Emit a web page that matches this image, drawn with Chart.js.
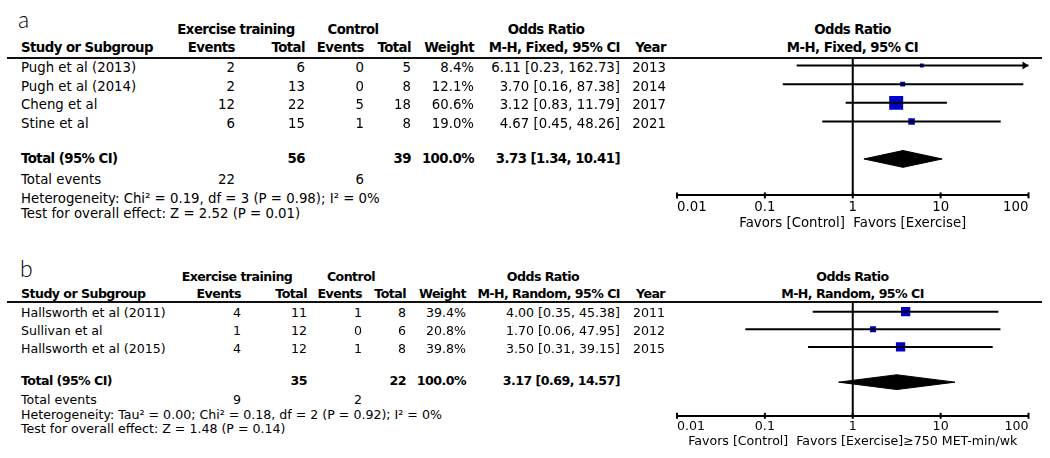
<!DOCTYPE html>
<html lang="en">
<head>
  <meta charset="UTF-8">
  <title>Forest plots</title>
  <script src="https://cdn.jsdelivr.net/npm/chart.js@4"></script>
  <style>
    body { margin: 0; background: #fff; }
    #page {
      position: relative;
      width: 1050px;
      height: 458px;
      overflow: hidden;
      font-family: "DejaVu Sans", Verdana, sans-serif;
      color: #000;
    }
    .t { position: absolute; white-space: nowrap; line-height: 1; }
    .b { font-weight: bold; letter-spacing: -0.55px; }
    .rule { position: absolute; left: 7px; width: 1035px; height: 2px; background: #111; }
    .tag { position: absolute; font-family: Lato, sans-serif; font-weight: 300; font-size: 23px; line-height: 1; }
    canvas { position: absolute; }
  </style>
</head>
<body>
  <div id="page">
    <canvas id="plotA" width="390" height="172" style="left:660px; top:58px;"></canvas>
    <canvas id="plotB" width="390" height="146" style="left:660px; top:302px;"></canvas>
  </div>

  <script>
    // ---- panel a data ----
    const studiesA = ['Pugh et al (2013)', 'Pugh et al (2014)', 'Cheng et al', 'Stine et al'];
    const exEventsA = [2, 2, 12, 6];
    const exTotalA = [6, 13, 22, 15];
    const ctEventsA = [0, 0, 5, 1];
    const ctTotalA = [5, 8, 18, 8];
    const weightA = [8.4, 12.1, 60.6, 19.0];
    const orA = [6.11, 3.70, 3.12, 4.67];
    const lowA = [0.23, 0.16, 0.83, 0.45];
    const highA = [162.73, 87.38, 11.79, 48.26];
    const yearA = [2013, 2014, 2017, 2021];
    const pooledA = [3.73, 1.34, 10.41];      // estimate, low, high
    const totalsA = [56, 39];                 // exercise, control
    const eventsA = [22, 6];
    const hetA = 'Heterogeneity: Chi² = 0.19, df = 3 (P = 0.98); I² = 0%';
    const testA = 'Test for overall effect: Z = 2.52 (P = 0.01)';

    // ---- panel b data ----
    const studiesB = ['Hallsworth et al (2011)', 'Sullivan et al', 'Hallsworth et al (2015)'];
    const exEventsB = [4, 1, 4];
    const exTotalB = [11, 12, 12];
    const ctEventsB = [1, 0, 1];
    const ctTotalB = [8, 6, 8];
    const weightB = [39.4, 20.8, 39.8];
    const orB = [4.00, 1.70, 3.50];
    const lowB = [0.35, 0.06, 0.31];
    const highB = [45.38, 47.95, 39.15];
    const yearB = [2011, 2012, 2015];
    const pooledB = [3.17, 0.69, 14.57];
    const totalsB = [35, 22];
    const eventsB = [9, 2];
    const hetB = 'Heterogeneity: Tau² = 0.00; Chi² = 0.18, df = 2 (P = 0.92); I² = 0%';
    const testB = 'Test for overall effect: Z = 1.48 (P = 0.14)';

    const orTicks = [0.01, 0.1, 1, 10, 100];

    const page = document.getElementById('page');

    function put(s, x, y, align, size, bold) {
      const d = document.createElement('div');
      d.className = 't' + (bold ? ' b' : '');
      d.textContent = s;
      d.style.fontSize = size + 'px';
      d.style.left = x + 'px';
      d.style.top = y + 'px';
      const tx = align === 'r' ? '-100%' : align === 'c' ? '-50%' : '0';
      d.style.transform = `translate(${tx}, -50%)`;
      page.appendChild(d);
    }

    function orText(e, l, h) {
      return `${e.toFixed(2)} [${l.toFixed(2)}, ${h.toFixed(2)}]`;
    }

    function table(L, method, d) {
      const fs = L.fs;
      const tag = document.createElement('div');
      tag.className = 'tag';
      tag.textContent = L.tag;
      tag.style.left = L.tagX + 'px';
      tag.style.top = L.tagY + 'px';
      tag.style.transform = 'translateY(-50%)';
      page.appendChild(tag);

      put('Exercise training', L.grpE, L.h1, 'c', fs, true);
      put('Control', L.grpC, L.h1, 'c', fs, true);
      put('Odds Ratio', L.orHead, L.h1, 'c', fs, true);
      put('Odds Ratio', 852.5, L.h1, 'c', fs, true);

      put('Study or Subgroup', L.c.study, L.h2, 'l', fs, true);
      put('Events', L.c.evE, L.h2, 'r', fs, true);
      put('Total', L.c.totE, L.h2, 'r', fs, true);
      put('Events', L.c.evC, L.h2, 'r', fs, true);
      put('Total', L.c.totC, L.h2, 'r', fs, true);
      put('Weight', L.c.wt, L.h2, 'r', fs, true);
      put(method, L.c.or, L.h2, 'r', fs, true);
      put('Year', L.c.yr, L.h2, 'r', fs, true);
      put(method, 852.5, L.h2, 'c', fs, true);

      const rule = document.createElement('div');
      rule.className = 'rule';
      rule.style.top = (L.rule - 1) + 'px';
      page.appendChild(rule);

      d.studies.forEach((s, i) => {
        const y = L.row0 + L.step * i;
        put(s, L.c.study, y, 'l', fs);
        put(String(d.exEv[i]), L.c.evE, y, 'r', fs);
        put(String(d.exTot[i]), L.c.totE, y, 'r', fs);
        put(String(d.ctEv[i]), L.c.evC, y, 'r', fs);
        put(String(d.ctTot[i]), L.c.totC, y, 'r', fs);
        put(d.wt[i].toFixed(1) + '%', L.c.wt, y, 'r', fs);
        put(orText(d.or[i], d.lo[i], d.hi[i]), L.c.or, y, 'r', fs);
        put(String(d.year[i]), L.c.yr, y, 'r', fs);
      });

      put('Total (95% CI)', L.c.study, L.totY, 'l', fs, true);
      put(String(d.totals[0]), L.c.totE, L.totY, 'r', fs, true);
      put(String(d.totals[1]), L.c.totC, L.totY, 'r', fs, true);
      put('100.0%', L.c.wt, L.totY, 'r', fs, true);
      put(orText(d.pooled[0], d.pooled[1], d.pooled[2]), L.c.or, L.totY, 'r', fs, true);

      put('Total events', L.c.study, L.evY, 'l', fs);
      put(String(d.events[0]), L.c.evE, L.evY, 'r', fs);
      put(String(d.events[1]), L.c.evC, L.evY, 'r', fs);
      put(d.het, L.c.study, L.hetY, 'l', fs);
      put(d.test, L.c.study, L.testY, 'l', fs);
    }

    const forestExtras = {
      id: 'forestExtras',
      beforeDatasetsDraw(chart) {
        const {ctx, chartArea: a, scales: {x}} = chart;
        const x1 = x.getPixelForValue(1);
        ctx.save();
        ctx.strokeStyle = '#000';
        ctx.lineWidth = 2;
        ctx.beginPath();
        ctx.moveTo(x1, a.top);
        ctx.lineTo(x1, a.bottom);
        ctx.stroke();
        ctx.restore();
      },
      afterDraw(chart, args, opts) {
        const {ctx, chartArea: a, scales: {x, y}} = chart;
        ctx.save();
        ctx.strokeStyle = '#000';
        ctx.fillStyle = '#000';
        ctx.lineWidth = 2;
        orTicks.forEach(v => {
          const px = x.getPixelForValue(v);
          ctx.beginPath();
          ctx.moveTo(px, a.bottom - 3);
          ctx.lineTo(px, a.bottom + 3);
          ctx.stroke();
        });
        // arrows for intervals that run past the axis
        (opts.high || []).forEach((h, i) => {
          if (h <= x.max) return;
          const px = x.getPixelForValue(x.max);
          const py = y.getPixelForValue(i);
          ctx.beginPath();
          ctx.moveTo(px, py);
          ctx.lineTo(px - 6, py - 4);
          ctx.lineTo(px - 6, py + 4);
          ctx.closePath();
          ctx.fill();
        });
        ctx.restore();
      }
    };

    function forest(id, d, g) {
      const n = d.or.length;
      const datasets = [];
      d.or.forEach((v, i) => {
        datasets.push({
          data: [{x: d.lo[i], y: i}, {x: d.hi[i], y: i}],
          showLine: true,
          borderColor: '#000',
          borderWidth: 2,
          pointRadius: 0
        });
      });
      datasets.push({
        data: d.or.map((v, i) => ({x: v, y: i})),
        pointStyle: 'rect',
        pointRadius: d.wt.map(w => g.box * Math.pow(w, 0.65) / Math.SQRT2),
        backgroundColor: '#0000cc',
        borderWidth: 0
      });
      const r = n + 1, h = g.dia, p = d.pooled;
      datasets.push({
        data: [{x: p[1], y: r}, {x: p[0], y: r - h}, {x: p[2], y: r}, {x: p[0], y: r + h}, {x: p[1], y: r}],
        showLine: true,
        fill: 'shape',
        backgroundColor: '#000',
        borderColor: '#000',
        borderWidth: 1,
        pointRadius: 0
      });

      const font = {family: '"DejaVu Sans", Verdana, sans-serif', size: g.fs, lineHeight: 1};
      return new Chart(document.getElementById(id), {
        type: 'scatter',
        data: {datasets},
        options: {
          responsive: false,
          animation: false,
          events: [],
          layout: {autoPadding: false, padding: {left: 17, right: 21.5, top: 0, bottom: 0}},
          plugins: {
            legend: {display: false},
            tooltip: {enabled: false},
            forestExtras: {high: d.hi}
          },
          scales: {
            x: {
              type: 'logarithmic',
              min: orTicks[0],
              max: orTicks[orTicks.length - 1],
              afterBuildTicks: s => { s.ticks = orTicks.map(v => ({value: v})); },
              ticks: {
                align: 'inner',
                padding: g.pad,
                color: '#000',
                font,
                maxRotation: 0,
                autoSkip: false,
                callback: v => String(v)
              },
              grid: {display: false, drawTicks: true, tickLength: 3},
              border: {display: true, color: '#000', width: 2},
              title: {display: true, text: g.foot, color: '#000', font, padding: {top: g.titlePad, bottom: 0}}
            },
            y: {type: 'linear', display: false, reverse: true, min: g.ymin, max: g.ymax}
          }
        },
        plugins: [forestExtras]
      });
    }

    const dataA = {
      studies: studiesA, exEv: exEventsA, exTot: exTotalA, ctEv: ctEventsA, ctTot: ctTotalA,
      wt: weightA, or: orA, lo: lowA, hi: highA, year: yearA, pooled: pooledA,
      totals: totalsA, events: eventsA, het: hetA, test: testA
    };
    const dataB = {
      studies: studiesB, exEv: exEventsB, exTot: exTotalB, ctEv: ctEventsB, ctTot: ctTotalB,
      wt: weightB, or: orB, lo: lowB, hi: highB, year: yearB, pooled: pooledB,
      totals: totalsB, events: eventsB, het: hetB, test: testB
    };

    table({
      fs: 13.3, tag: 'a', tagX: 18, tagY: 19, h1: 29.5, h2: 48, rule: 58,
      row0: 68, step: 18.65, totY: 158.5, evY: 180, hetY: 198.5, testY: 214,
      grpE: 236, grpC: 353, orHead: 546,
      c: {study: 21, evE: 235, totE: 305, evC: 364, totC: 411, wt: 474, or: 620, yr: 666}
    }, 'M-H, Fixed, 95% CI', dataA);

    table({
      fs: 12.6, tag: 'b', tagX: 20, tagY: 268, h1: 276.7, h2: 294, rule: 301.5,
      row0: 313.3, step: 17.6, totY: 381, evY: 400, hetY: 415, testY: 429,
      grpE: 237, grpC: 351, orHead: 543,
      c: {study: 21, evE: 241, totE: 307, evC: 362, totC: 406, wt: 466, or: 620, yr: 665}
    }, 'M-H, Random, 95% CI', dataB);

    forest('plotA', dataA, {
      fs: 13.3, pad: 2.5, titlePad: 0, box: 0.97, dia: 0.45,
      ymin: -0.4, ymax: 6.95, foot: 'Favors [Control]  Favors [Exercise]'
    });
    forest('plotB', dataB, {
      fs: 12.6, pad: 2, titlePad: 0, box: 0.85, dia: 0.42,
      ymin: -0.55, ymax: 5.91, foot: 'Favors [Control]  Favors [Exercise]≥750 MET-min/wk'
    });
  </script>
</body>
</html>
